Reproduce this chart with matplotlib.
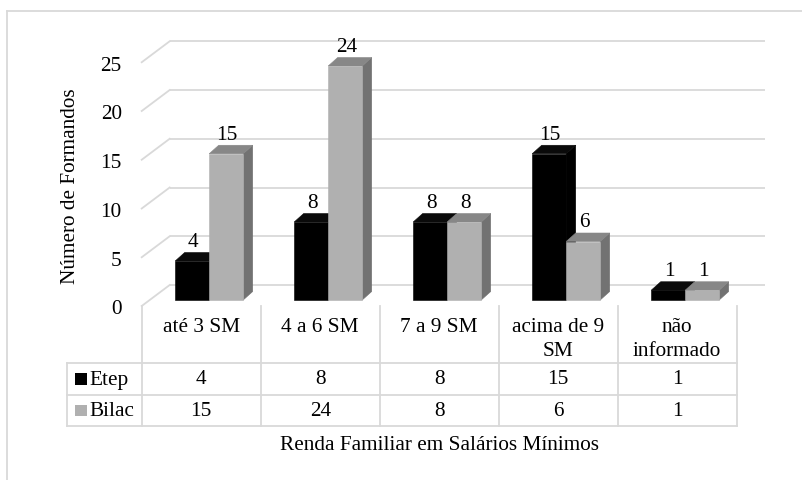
import matplotlib
matplotlib.use('Agg')
import matplotlib.pyplot as plt
from matplotlib.patches import Polygon, Rectangle

# ---------------- data ----------------
categories = ['até 3 SM', '4 a 6 SM', '7 a 9 SM', 'acima de 9\nSM', 'não\ninformado']
etep = [4, 8, 8, 15, 1]
bilac = [15, 24, 8, 6, 1]
series_names = ['Etep', 'Bilac']
yticks = [0, 5, 10, 15, 20, 25]
ylabel = 'Número de Formandos'
xlabel = 'Renda Familiar em Salários Mínimos'

# ---------------- style / layout ----------------
plt.rcParams['font.family'] = ['Liberation Serif', 'DejaVu Serif']
FS = 15.3
W, H = 803, 481
X0_PX = 209.2     # pixel x of category 0 centre (bar plane)
CAT_PX = 119.0    # pixels per category
Y0_PX = 301.0     # pixel y of value 0 (bar plane)
UNIT_PX = 9.75    # pixels per unit
BAR_W = 34 / CAT_PX
DEPTH_X, DEPTH_Y = 9.5, 8.5      # bar depth in px
FRONT_X, FRONT_Y = -8.0, -6.0    # front plane offset (px, +y = up)
BACK_X, BACK_Y = 20.0, 15.0      # back wall offset
GRID_C = '#d9d9d9'
COLORS = {
    'Etep': dict(front='#000000', top='#0a0a0a', side='#000000'),
    'Bilac': dict(front='#b0b0b0', top='#878787', side='#727272'),
}

def dx(px):
    return px / CAT_PX

def dy(px):
    return px / UNIT_PX

def ax_x(px):
    return (px - X0_PX) / CAT_PX

def ax_y(py):
    return (Y0_PX - py) / UNIT_PX

fig = plt.figure(figsize=(W / 100, H / 100), dpi=100)
ax = fig.add_axes([0, 0, 1, 1])
ax.set_xlim(ax_x(0), ax_x(W))
ax.set_ylim(ax_y(H), ax_y(0))
ax.axis('off')

# outer chart frame (left and top edges visible)
ax.plot([ax_x(7), ax_x(7)], [ax_y(12), ax_y(H + 5)], color=GRID_C, lw=1.3, zorder=1)
ax.plot([ax_x(7), ax_x(W + 5)], [ax_y(12), ax_y(12)], color=GRID_C, lw=1.3, zorder=1)

n = len(categories)
left_cat, right_cat = -0.5, n - 0.5

# gridlines on back wall + left diagonal + tick labels
for v in yticks:
    yb = v + dy(BACK_Y)
    yf = v + dy(FRONT_Y)
    xb0 = left_cat + dx(BACK_X)
    xb1 = right_cat + dx(BACK_X)
    xf0 = left_cat + dx(FRONT_X)
    ax.plot([xb0, xb1], [yb, yb], color=GRID_C, lw=1.3, zorder=1, solid_capstyle='butt')
    ax.plot([xf0, xb0], [yf, yb], color=GRID_C, lw=1.3, zorder=1)
    ax.text(xf0 - dx(20), yf - dy(3), str(v), ha='right', va='center', fontsize=FS, zorder=2)

ax.text(ax_x(70), ax_y(186), ylabel, rotation=90, ha='center', va='center', fontsize=FS)

# bars (3D-ish)
ddx, ddy = dx(DEPTH_X), dy(DEPTH_Y)
z = 3
for i in range(n):
    for k, (name, vals) in enumerate(zip(series_names, [etep, bilac])):
        v = vals[i]
        c = COLORS[name]
        x0 = i - BAR_W + k * BAR_W
        x1 = x0 + BAR_W
        side = Polygon([(x1, 0), (x1, v), (x1 + ddx, v + ddy), (x1 + ddx, ddy)],
                       closed=True, facecolor=c['side'], edgecolor=c['side'], lw=0.4, zorder=z)
        top = Polygon([(x0, v), (x1, v), (x1 + ddx, v + ddy), (x0 + ddx, v + ddy)],
                      closed=True, facecolor=c['top'], edgecolor=c['top'], lw=0.4, zorder=z)
        ax.add_patch(side)
        ax.add_patch(top)
        ax.bar(x0, v, width=BAR_W, align='edge', color=c['front'], edgecolor=c['front'],
               lw=0.4, zorder=z + 1)
        ax.text(x0 + BAR_W / 2 + dx(1), v + ddy + dy(6.5), str(v), ha='center', va='baseline',
                fontsize=FS, zorder=20)
        z += 2

# data table
col_edges = [left_cat + i + dx(FRONT_X) for i in range(n + 1)]
y_top = dy(FRONT_Y)
row_lines = [ax_y(364), ax_y(396), ax_y(427)]
legend_left = ax_x(67)
for xe in col_edges:
    ax.plot([xe, xe], [y_top, row_lines[-1]], color=GRID_C, lw=1.3, zorder=1)
ax.plot([legend_left, legend_left], [row_lines[0], row_lines[-1]], color=GRID_C, lw=1.3, zorder=1)
for yl in row_lines:
    ax.plot([legend_left, col_edges[-1]], [yl, yl], color=GRID_C, lw=1.3, zorder=1,
            solid_capstyle='projecting')

# header labels
for i, lab in enumerate(categories):
    cx = (col_edges[i] + col_edges[i + 1]) / 2
    for j, line in enumerate(lab.split('\n')):
        ax.text(cx, ax_y(328 + 23 * j), line, ha='center', va='center', fontsize=FS)

# rows
for r, (name, vals) in enumerate(zip(series_names, [etep, bilac])):
    yc = (row_lines[r] + row_lines[r + 1]) / 2
    sw = dx(11.5)
    swh = dy(11.5)
    ax.add_patch(Rectangle((ax_x(75), yc - swh / 2), sw, swh, facecolor=COLORS[name]['front'],
                           edgecolor='none', zorder=3))
    ax.text(ax_x(89), yc, name, ha='left', va='center', fontsize=FS)
    for i, v in enumerate(vals):
        cx = (col_edges[i] + col_edges[i + 1]) / 2
        ax.text(cx, yc, str(v), ha='center', va='center', fontsize=FS)

ax.text((col_edges[0] + col_edges[-1]) / 2, ax_y(446), xlabel, ha='center', va='center', fontsize=FS)

fig.savefig('out.png', dpi=100, facecolor='white')
